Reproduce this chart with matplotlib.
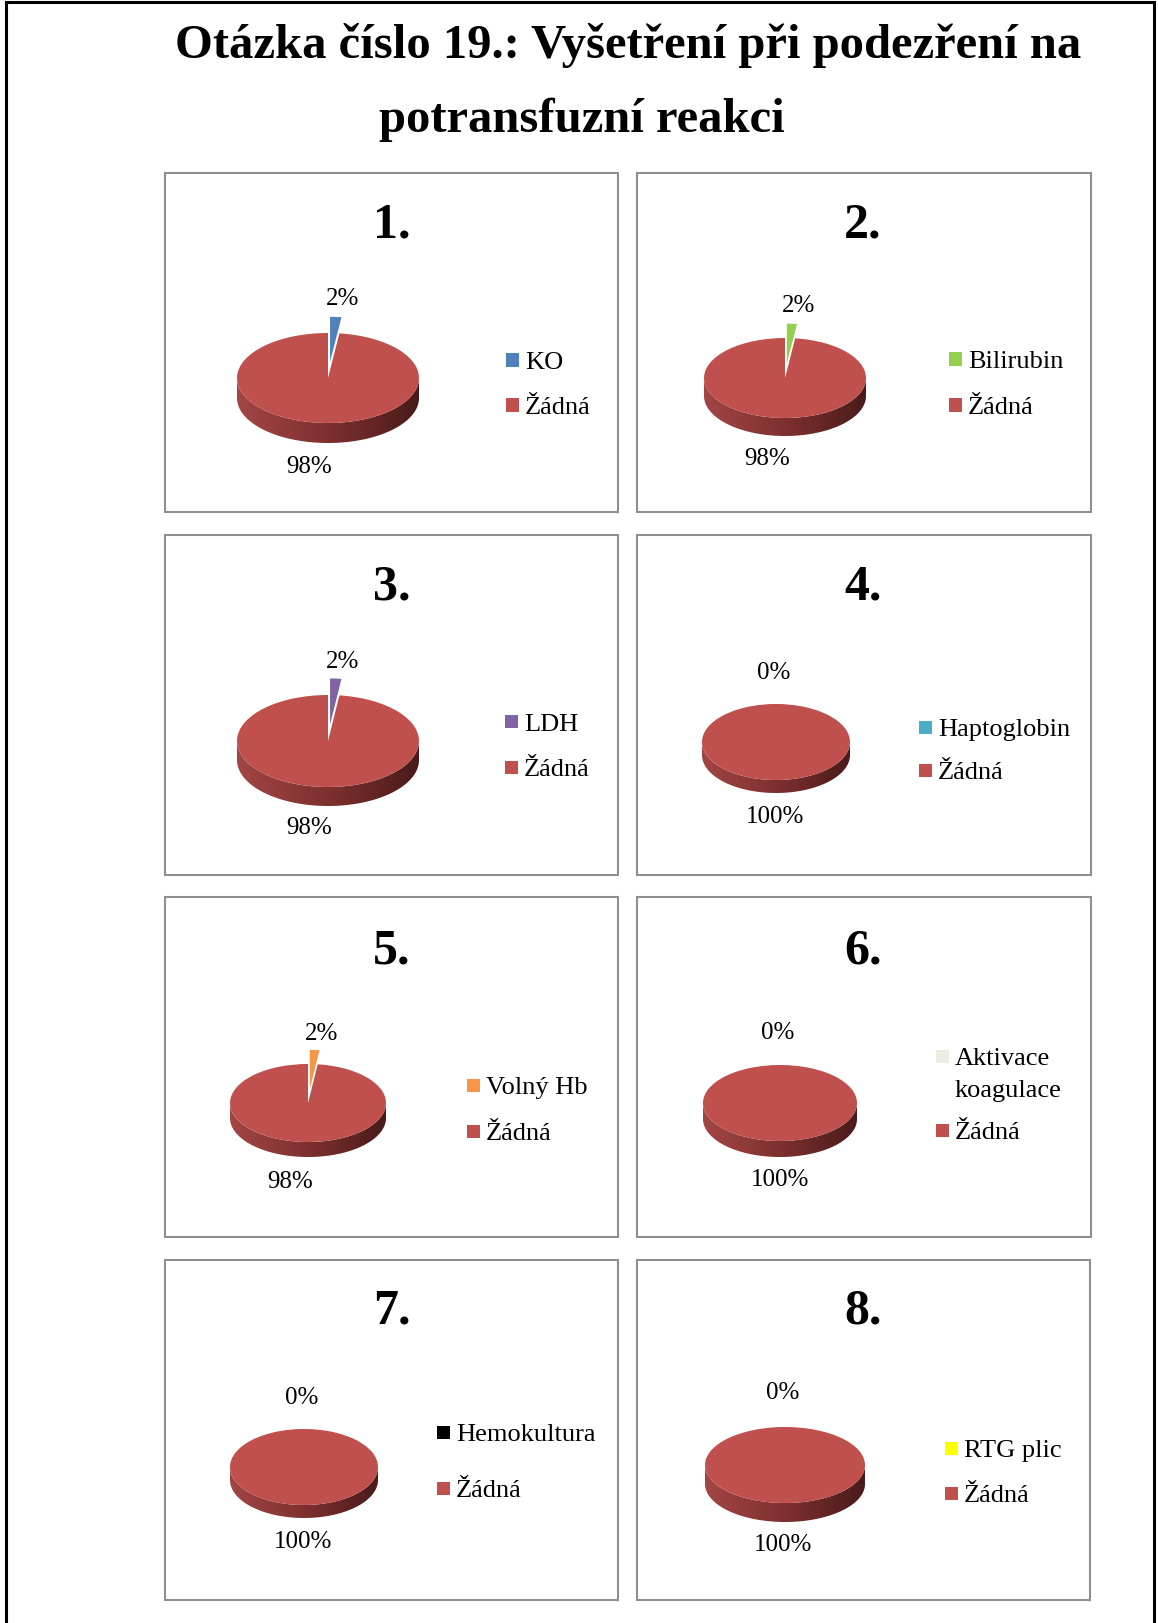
import matplotlib
matplotlib.use("Agg")
import matplotlib.pyplot as plt
import numpy as np
from matplotlib.patches import Rectangle, Polygon
from matplotlib.lines import Line2D
from matplotlib.colors import LinearSegmentedColormap

# ---------------- data ----------------
title_line1 = "Otázka číslo 19.: Vyšetření při podezření na"
title_line2 = "potransfuzní reakci"
panel_numbers = ["1.", "2.", "3.", "4.", "5.", "6.", "7.", "8."]
categories = ["KO", "Bilirubin", "LDH", "Haptoglobin", "Volný Hb",
              "Aktivace\nkoagulace", "Hemokultura", "RTG plic"]
other_label = "Žádná"
yes_pct = [2, 2, 2, 0, 2, 0, 0, 0]
none_pct = [98, 98, 98, 100, 98, 100, 100, 100]

# ---------------- styles ----------------
cat_colors = ["#4F81BD", "#92D050", "#8064A2", "#4BACC6", "#F79646",
              "#EEECE1", "#000000", "#FFFF00"]
none_color = "#C0504D"
side_cmap = LinearSegmentedColormap.from_list(
    "side", ["#A24644", "#7E302F", "#4A1B1B"])
SERIF = "Liberation Serif"

# ---------------- layout (pixels) ----------------
W, H = 1158, 1623
panel_rects = [(165, 173, 618, 512), (637, 173, 1091, 512),
               (165, 535, 618, 875), (637, 535, 1091, 875),
               (165, 897, 618, 1237), (637, 897, 1091, 1237),
               (165, 1260, 618, 1600), (637, 1260, 1090, 1600)]
num_pos = [(392, 226), (863, 226), (392, 588), (863, 588),
           (392, 951), (863, 951), (392, 1311), (863, 1311)]
# cx, cy, rx, ry, depth
pie_geo = [(328, 378, 91, 45, 20), (785, 378, 81, 40, 18),
           (328, 741, 91, 46, 19), (776, 742, 74, 38, 13),
           (308, 1103, 78, 39, 15), (780, 1103, 77, 38, 16),
           (304, 1467, 74, 38, 13), (785, 1465, 80, 38, 19)]
yes_lbl_pos = [(343, 299), (799, 306), (343, 662), (774, 673),
               (322, 1034), (778, 1033), (302, 1398), (783, 1393)]
none_lbl_pos = [(309, 467), (767, 459), (309, 828), (775, 817),
                (290, 1182), (780, 1180), (303, 1542), (783, 1545)]
leg_sq_x = [512, 955, 511, 925, 473, 942, 443, 951]
leg_y = [(360, 405), (359, 405), (722, 767), (727, 770),
         (1085, 1131), (1056, 1130), (1432, 1488), (1448, 1493)]
SQ = 13
LEG_FS = 19
LINE_GAP = 32

fig = plt.figure(figsize=(W / 100, H / 100), dpi=100)
fig.patch.set_facecolor("white")


def fx(px):
    return px / W


def fy(py):
    return 1 - py / H


# outer frame (top, left, right)
for xs, ys in [((6, 1154), (1.5, 1.5)), ((6, 6), (1.5, H)), ((1154, 1154), (1.5, H))]:
    fig.add_artist(Line2D([fx(x) for x in xs], [fy(y) for y in ys],
                          transform=fig.transFigure, color="black", lw=2.2))

# title
fig.text(fx(628), fy(45), title_line1, ha="center", va="center",
         fontsize=35, fontweight="bold", family=SERIF)
fig.text(fx(582), fy(120), title_line2, ha="center", va="center",
         fontsize=35, fontweight="bold", family=SERIF)


def draw_pie(i):
    cx, cy, rx, ry, depth = pie_geo[i]
    d = depth / ry
    left = cx - 1.5 * rx
    top = cy - 2 * ry
    bottom = cy + 2 * ry + depth
    ax = fig.add_axes([fx(left), fy(bottom), 3 * rx / W, (bottom - top) / H])
    vals = [yes_pct[i], none_pct[i]]
    explode = [0.36, 0] if yes_pct[i] > 0 else [0, 0]
    wedges, _ = ax.pie(vals, colors=[cat_colors[i], none_color], startangle=90,
                       counterclock=False, explode=explode, radius=1,
                       center=(0, 0), frame=False,
                       wedgeprops=dict(linewidth=0))
    for w in wedges:
        w.set_zorder(2)
    # side band of the 3-D disc
    t = np.linspace(np.pi, 2 * np.pi, 120)
    pts = np.concatenate([np.c_[np.cos(t), np.sin(t)],
                          np.c_[np.cos(t[::-1]), np.sin(t[::-1]) - d]])
    band = Polygon(pts, closed=True, facecolor="none", edgecolor="none")
    ax.add_patch(band)
    grad = np.linspace(0, 1, 256).reshape(1, -1)
    im = ax.imshow(grad, cmap=side_cmap, extent=(-1, 1, -1 - d, 0),
                   aspect="auto", zorder=1, interpolation="bilinear")
    im.set_clip_path(band)
    ax.set_aspect("auto")
    ax.set_xlim(-1.5, 1.5)
    ax.set_ylim(-2 - d, 2)
    ax.axis("off")


em_px = LEG_FS * 100 / 72
for i in range(8):
    x0, y0, x1, y1 = panel_rects[i]
    fig.add_artist(Rectangle((fx(x0), fy(y1)), (x1 - x0) / W, (y1 - y0) / H,
                             transform=fig.transFigure, fill=False,
                             edgecolor="#8E8E8E", lw=1.5))
    fig.text(fx(num_pos[i][0]), fy(num_pos[i][1]), panel_numbers[i],
             ha="center", va="center", fontsize=36, fontweight="bold",
             family=SERIF)
    draw_pie(i)
    fig.text(fx(yes_lbl_pos[i][0]), fy(yes_lbl_pos[i][1]), f"{yes_pct[i]}%",
             ha="center", va="center", fontsize=18, family=SERIF)
    fig.text(fx(none_lbl_pos[i][0]), fy(none_lbl_pos[i][1]), f"{none_pct[i]}%",
             ha="center", va="center", fontsize=18, family=SERIF)
    # legend
    sx = leg_sq_x[i]
    for lbl, col, yy in [(categories[i], cat_colors[i], leg_y[i][0]),
                         (other_label, none_color, leg_y[i][1])]:
        fig.add_artist(Rectangle((fx(sx - SQ / 2), fy(yy + SQ / 2)), SQ / W, SQ / H,
                                 transform=fig.transFigure, facecolor=col,
                                 edgecolor="none"))
        for k, line in enumerate(lbl.split("\n")):
            fig.text(fx(sx + 13), fy(yy + 0.33 * em_px + k * LINE_GAP), line,
                     ha="left", va="baseline", fontsize=LEG_FS, family=SERIF)

fig.savefig("out.png", dpi=100, facecolor="white")
